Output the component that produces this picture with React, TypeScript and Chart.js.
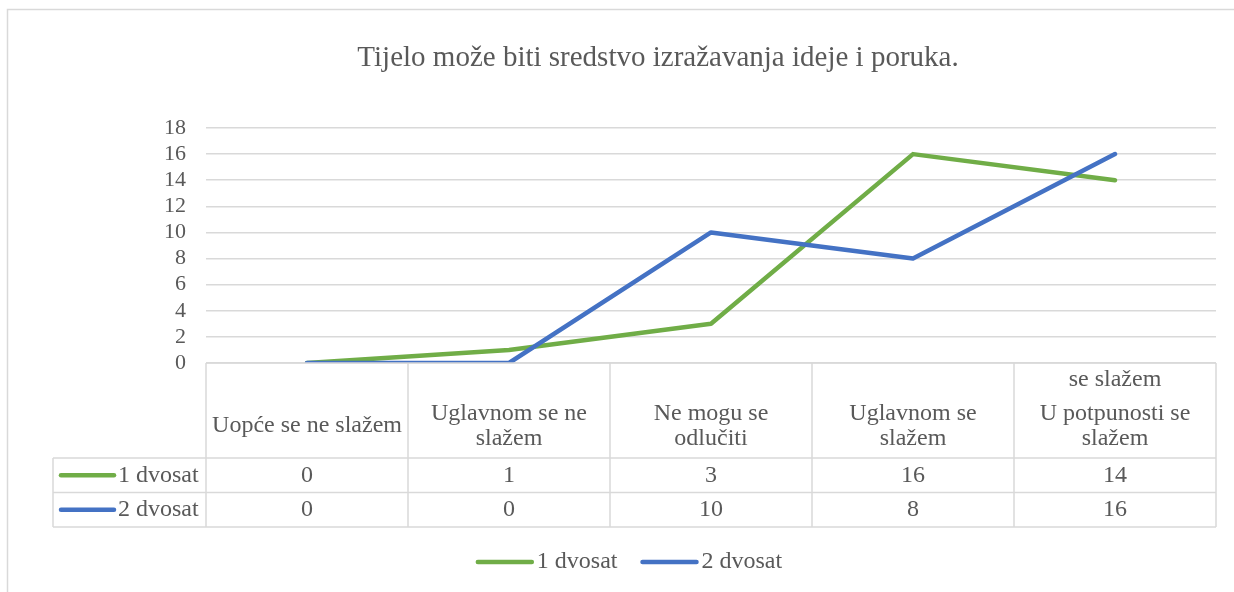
import React, { useEffect, useRef } from "react";
import { Chart, registerables } from "chart.js";
Chart.register(...registerables);

const titleText = "Tijelo može biti sredstvo izražavanja ideje i poruka.";
const categories = [
  "Uopće se ne slažem",
  "Uglavnom se ne slažem",
  "Ne mogu se odlučiti",
  "Uglavnom se slažem",
  "U potpunosti se slažem",
];
const categoryLines = [
  ["Uopće se ne slažem"],
  ["Uglavnom se ne", "slažem"],
  ["Ne mogu se", "odlučiti"],
  ["Uglavnom se", "slažem"],
  ["U potpunosti se", "slažem"],
];
const categoryOverflow = ["", "", "", "", "se slažem"];
const seriesNames = ["1 dvosat", "2 dvosat"];
const series1 = [0, 1, 3, 16, 14];
const series2 = [0, 0, 10, 8, 16];
const seriesColors = ["#70AD47", "#4472C4"];
const yMin = 0;
const yMax = 18;
const yStep = 2;

const FONT = "'Liberation Serif', 'Times New Roman', serif";
const TEXT = "#595959";
const GRID = "#d9d9d9";

const tablePlugin = {
  id: "excelTable",
  afterDraw(chart: any) {
    const ctx = chart.ctx as CanvasRenderingContext2D;
    const area = chart.chartArea;
    const xs = chart.scales.x;
    const n = categories.length;
    const colW = (area.right - area.left) / n;
    const top = area.bottom;
    const headBottom = top + 95;
    const rowH = 34.5;
    const tableLeft = 53;
    ctx.save();
    // frame
    ctx.strokeStyle = GRID;
    ctx.lineWidth = 1.5;
    ctx.beginPath();
    ctx.moveTo(7.5, chart.height + 2);
    ctx.lineTo(7.5, 9.5);
    ctx.lineTo(chart.width + 2, 9.5);
    ctx.stroke();

    // table grid
    ctx.beginPath();
    for (let i = 0; i <= n; i++) {
      const x = area.left + i * colW;
      ctx.moveTo(x, top);
      ctx.lineTo(x, headBottom + 2 * rowH);
    }
    ctx.moveTo(tableLeft, headBottom);
    ctx.lineTo(tableLeft, headBottom + 2 * rowH);
    for (let r = 0; r <= 2; r++) {
      const y = headBottom + r * rowH;
      ctx.moveTo(tableLeft, y);
      ctx.lineTo(area.right, y);
    }
    ctx.moveTo(area.left, top);
    ctx.lineTo(area.right, top);
    ctx.stroke();

    // header text
    ctx.fillStyle = TEXT;
    ctx.font = `24px ${FONT}`;
    ctx.textAlign = "center";
    ctx.textBaseline = "middle";
    const headCenter = top + 63;
    const lh = 25;
    for (let i = 0; i < n; i++) {
      const cx = xs.getPixelForValue(i);
      const lines = categoryLines[i];
      const start = headCenter - ((lines.length - 1) * lh) / 2;
      lines.forEach((l, k) => ctx.fillText(l, cx, start + k * lh));
      if (categoryOverflow[i]) ctx.fillText(categoryOverflow[i], cx, top + 17);
    }
    // rows
    const rows = [series1, series2];
    rows.forEach((vals, r) => {
      const cy = headBottom + r * rowH + rowH / 2;
      vals.forEach((v, i) => {
        ctx.fillText(String(v), xs.getPixelForValue(i), cy);
      });
      // key
      ctx.strokeStyle = seriesColors[r];
      ctx.lineWidth = 4.5;
      ctx.lineCap = "round";
      ctx.beginPath();
      ctx.moveTo(61, cy);
      ctx.lineTo(114, cy);
      ctx.stroke();
      ctx.textAlign = "left";
      ctx.fillText(seriesNames[r], 118, cy);
      ctx.textAlign = "center";
    });

    // legend
    const ly = 562;
    ctx.textAlign = "left";
    const items = seriesNames.map((name) => ctx.measureText(name).width);
    const seg = 54;
    const gap = 5;
    const itemGap = 25;
    const total = items.reduce((a, w) => a + seg + gap + w, 0) + itemGap;
    let x = 630 - total / 2;
    seriesNames.forEach((name, r) => {
      ctx.strokeStyle = seriesColors[r];
      ctx.lineWidth = 4.5;
      ctx.lineCap = "round";
      ctx.beginPath();
      ctx.moveTo(x, ly);
      ctx.lineTo(x + seg, ly);
      ctx.stroke();
      ctx.fillText(name, x + seg + gap, ly);
      x += seg + gap + items[r] + itemGap;
    });

    // title
    ctx.font = `29px ${FONT}`;
    ctx.textAlign = "center";
    ctx.fillText(titleText, 658, 58);
    ctx.restore();
  },
};

export default function App() {
  const ref = useRef<HTMLCanvasElement>(null);
  useEffect(() => {
    document.body.style.margin = "0";
    const chart = new Chart(ref.current!, {
      type: "line",
      data: {
        labels: categories,
        datasets: [
          {
            label: seriesNames[0],
            data: series1,
            borderColor: seriesColors[0],
            backgroundColor: seriesColors[0],
            borderWidth: 4.5,
            pointRadius: 0,
            tension: 0,
            borderCapStyle: "round",
            borderJoinStyle: "round",
            order: 1,
          },
          {
            label: seriesNames[1],
            data: series2,
            borderColor: seriesColors[1],
            backgroundColor: seriesColors[1],
            borderWidth: 4.5,
            pointRadius: 0,
            tension: 0,
            borderCapStyle: "round",
            borderJoinStyle: "round",
            order: 0,
          },
        ],
      },
      options: {
        animation: false,
        responsive: false,
        layout: { padding: { left: 0, right: 18, top: 128, bottom: 229 } },
        plugins: {
          legend: { display: false },
          title: { display: false },
          tooltip: { enabled: false },
        },
        scales: {
          x: { display: false, offset: true },
          y: {
            min: yMin,
            max: yMax,
            afterFit: (s: any) => {
              s.width = 206;
            },
            ticks: {
              stepSize: yStep,
              autoSkip: false,
              padding: 20,
              color: TEXT,
              font: { family: FONT, size: 22 },
            },
            grid: { color: GRID, lineWidth: 1.5, drawTicks: false },
            border: { display: false },
          },
        },
      },
      plugins: [tablePlugin],
    });
    return () => chart.destroy();
  }, []);
  return (
    <div style={{ width: 1234, height: 592 }}>
      <canvas ref={ref} width={1234} height={592} />
    </div>
  );
}
